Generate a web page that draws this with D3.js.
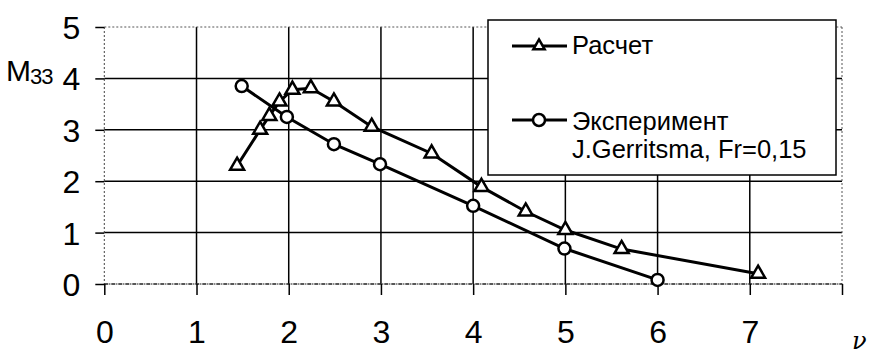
<!DOCTYPE html>
<html>
<head>
<meta charset="utf-8">
<script src="https://cdn.jsdelivr.net/npm/d3@7"></script>
<style>
  html, body { margin: 0; padding: 0; background: #fff; }
  svg { display: block; }
</style>
</head>
<body>
<svg id="chart" width="872" height="354"></svg>
<script>
// Axis ticks
const nuTicks = [0, 1, 2, 3, 4, 5, 6, 7, 8];
const nuTickLabels = ["0", "1", "2", "3", "4", "5", "6", "7", ""];
const mTicks = [0, 1, 2, 3, 4, 5];
const mTickLabels = ["0", "1", "2", "3", "4", "5"];

// Calculation (triangles)
const calcNu = [1.44, 1.69, 1.79, 1.90, 2.04, 2.24, 2.49, 2.90, 3.55, 4.09, 4.57, 5.00, 5.61, 7.09];
const calcM  = [2.30, 3.00, 3.27, 3.55, 3.78, 3.81, 3.55, 3.06, 2.54, 1.89, 1.41, 1.05, 0.68, 0.20];

// Experiment, J.Gerritsma, Fr=0,15 (circles)
const expNu = [1.49, 1.98, 2.49, 2.99, 4.00, 4.99, 6.00];
const expM  = [3.85, 3.25, 2.72, 2.33, 1.52, 0.69, 0.08];

const legendLabels = ["Расчет", "Эксперимент", "J.Gerritsma, Fr=0,15"];

const svg = d3.select("#chart");
const FONT = "'Liberation Sans', Arial, sans-serif";

const x = d3.scaleLinear().domain([0, 8]).range([104.3, 842]);
const y = d3.scaleLinear().domain([0, 5]).range([284, 27]);

// Grid lines
const grid = svg.append("g").attr("stroke", "#000").attr("stroke-width", 1.5);
grid.selectAll("line.v").data(nuTicks.filter(d => d > 0 && d < 8)).join("line")
  .attr("x1", d => x(d)).attr("x2", d => x(d))
  .attr("y1", y(5)).attr("y2", y(0));
grid.selectAll("line.h").data(mTicks.filter(d => d > 0 && d < 5)).join("line")
  .attr("x1", x(0)).attr("x2", x(8))
  .attr("y1", d => y(d)).attr("y2", d => y(d));

// Plot frame (faint dotted edges)
const frame = svg.append("g").attr("fill", "none");
frame.append("line").attr("x1", x(0)).attr("x2", x(8)).attr("y1", y(5)).attr("y2", y(5))
  .attr("stroke", "#555").attr("stroke-width", 1).attr("stroke-dasharray", "2,2");
frame.append("line").attr("x1", x(8)).attr("x2", x(8)).attr("y1", y(5)).attr("y2", y(0))
  .attr("stroke", "#555").attr("stroke-width", 1).attr("stroke-dasharray", "2,2");
frame.append("line").attr("x1", x(0)).attr("x2", x(0)).attr("y1", y(5)).attr("y2", y(0))
  .attr("stroke", "#444").attr("stroke-width", 1).attr("stroke-dasharray", "2,2");
frame.append("line").attr("x1", x(0)).attr("x2", x(8)).attr("y1", y(0)).attr("y2", y(0))
  .attr("stroke", "#222").attr("stroke-width", 1.5).attr("stroke-dasharray", "4,1,1,1");

// X axis
const xAxis = svg.append("g").attr("transform", `translate(0,${y(0)})`)
  .call(d3.axisBottom(x).tickValues(nuTicks).tickSize(11).tickSizeOuter(0)
    .tickFormat((d, i) => nuTickLabels[i]));
xAxis.select(".domain").remove();
xAxis.selectAll(".tick line").attr("stroke", "#000").attr("stroke-width", 1.5);
xAxis.selectAll(".tick text")
  .attr("y", 59).attr("dy", null)
  .attr("font-family", FONT).attr("font-size", 32).attr("fill", "#000");

// Y axis
const yAxis = svg.append("g").attr("transform", `translate(${x(0)},0)`)
  .call(d3.axisLeft(y).tickValues(mTicks).tickSize(9).tickSizeOuter(0).tickPadding(15)
    .tickFormat((d, i) => mTickLabels[i]));
yAxis.select(".domain").remove();
yAxis.selectAll(".tick line").attr("stroke", "#000").attr("stroke-width", 1.5);
yAxis.selectAll(".tick text")
  .attr("font-family", FONT).attr("font-size", 32).attr("fill", "#000")
  .attr("dy", "0.36em");

// Axis titles
const yTitle = svg.append("text").attr("x", 6).attr("y", 81)
  .attr("font-family", FONT).attr("font-size", 30).attr("fill", "#000");
yTitle.append("tspan").text("M");
yTitle.append("tspan").attr("font-size", 22).attr("dy", 3).attr("dx", -1)
  .attr("letter-spacing", -1).text("33");

svg.append("text").attr("x", 852).attr("y", 349)
  .attr("font-family", "'DejaVu Serif', serif").attr("font-style", "italic")
  .attr("font-size", 24).attr("fill", "#000").text("ν");

// Series lines
const line = d3.line().x(d => x(d[0])).y(d => y(d[1]));
const calcPts = calcNu.map((v, i) => [v, calcM[i]]);
const expPts = expNu.map((v, i) => [v, expM[i]]);

svg.append("path").datum(calcPts).attr("d", line)
  .attr("fill", "none").attr("stroke", "#000").attr("stroke-width", 3);
svg.append("path").datum(expPts).attr("d", line)
  .attr("fill", "none").attr("stroke", "#000").attr("stroke-width", 3);

const tri = d3.symbol().type(d3.symbolTriangle).size(85);
svg.append("g").selectAll("path").data(calcPts).join("path")
  .attr("transform", d => `translate(${x(d[0])},${y(d[1])})`)
  .attr("d", tri).attr("fill", "#fff").attr("stroke", "#000").attr("stroke-width", 2.5);

svg.append("g").selectAll("circle").data(expPts).join("circle")
  .attr("cx", d => x(d[0])).attr("cy", d => y(d[1])).attr("r", 6)
  .attr("fill", "#fff").attr("stroke", "#000").attr("stroke-width", 2.5);

// Legend
const lg = svg.append("g");
lg.append("rect").attr("x", 488).attr("y", 20).attr("width", 348).attr("height", 155)
  .attr("fill", "#fff").attr("stroke", "#000").attr("stroke-width", 1.5);

lg.append("line").attr("x1", 512).attr("x2", 567).attr("y1", 46).attr("y2", 46)
  .attr("stroke", "#000").attr("stroke-width", 3);
lg.append("path").attr("transform", "translate(539,46)")
  .attr("d", d3.symbol().type(d3.symbolTriangle).size(55))
  .attr("fill", "#fff").attr("stroke", "#000").attr("stroke-width", 2.5);

lg.append("line").attr("x1", 512).attr("x2", 567).attr("y1", 120).attr("y2", 120)
  .attr("stroke", "#000").attr("stroke-width", 3);
lg.append("circle").attr("cx", 539).attr("cy", 120).attr("r", 6)
  .attr("fill", "#fff").attr("stroke", "#000").attr("stroke-width", 2.5);

const lgText = lg.append("g").attr("font-family", FONT).attr("font-size", 25.5).attr("fill", "#000");
lgText.append("text").attr("x", 572).attr("y", 54).text(legendLabels[0]);
lgText.append("text").attr("x", 572).attr("y", 130).text(legendLabels[1]);
lgText.append("text").attr("x", 572).attr("y", 158).text(legendLabels[2]);
</script>
</body>
</html>
